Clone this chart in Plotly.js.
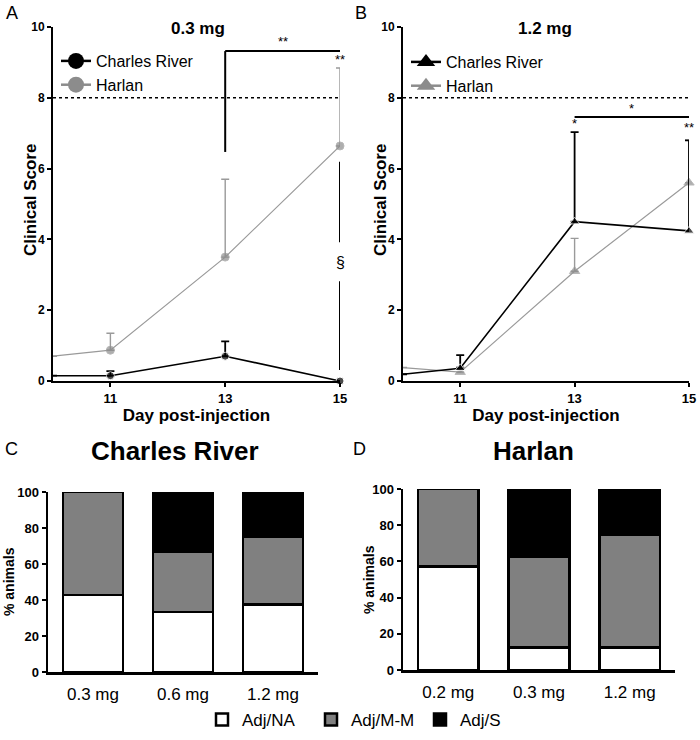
<!DOCTYPE html>
<html>
<head>
<meta charset="utf-8">
<script src="https://cdn.plot.ly/plotly-3.0.1.min.js"></script>
<style>html,body{margin:0;padding:0;background:#fff}#chart{width:700px;height:740px}</style>
</head>
<body>
<div id="chart"></div>
<script>
// ---------- data ----------
const days = [10, 11, 13, 15];
const dayTicks = [11, 13, 15];

// Panel A: 0.3 mg
const crA = [0.15, 0.15, 0.70, 0.00];
const crAErr = [null, 0.13, 0.42, null];
const harA = [0.70, 0.87, 3.50, 6.64];
const harAErr = [null, 0.48, 2.20, 2.20];

// Panel B: 1.2 mg
const crB = [0.19, 0.36, 4.50, 4.24];
const crBErr = [null, 0.37, 2.53, 2.56];
const harB = [0.38, 0.25, 3.10, 5.60];
const harBErr = [null, 0.15, 0.93, 1.20];

// Panel C: Charles River outcome distribution (% animals)
const doseC = ['0.3 mg', '0.6 mg', '1.2 mg'];
const naC = [42.9, 33.3, 37.5];
const mmC = [57.1, 33.3, 37.5];
const sC = [0, 33.4, 25.0];

// Panel D: Harlan outcome distribution (% animals)
const doseD = ['0.2 mg', '0.3 mg', '1.2 mg'];
const naD = [57.1, 12.5, 12.5];
const mmD = [42.9, 50.0, 62.5];
const sD = [0, 37.5, 25.0];

const outcomeNames = ['Adj/NA', 'Adj/M-M', 'Adj/S'];
const strainNames = ['Charles River', 'Harlan'];
const threshold = 8;

// ---------- helpers ----------
const W = 700, H = 740;
const px = v => v / W;
const py = v => 1 - v / H;
const FONT = 'Liberation Sans, Arial, sans-serif';
const BLACK = '#000000';
const GREY = '#8c8c8c';
const GREYLINE = '#9a9a9a';
const msz = (s) => days.map(d => (d < 11 ? 0 : s));

function lineTrace(y, err, name, color, lineColor, symbol, size, xa, ya, lw, ew) {
  return {
    type: 'scatter', mode: 'lines+markers', x: days, y: y, name: name,
    xaxis: xa, yaxis: ya, showlegend: false, cliponaxis: false,
    line: {color: lineColor, width: lw},
    marker: {color: color, symbol: symbol, size: msz(size)},
    error_y: {type: 'data', symmetric: false, array: err, arrayminus: err.map(e => (e == null ? null : 0)),
              color: lineColor, thickness: ew, width: 4}
  };
}
// legend entries (no data points of their own)
function legendEntry(name, color, symbol, size, xa, ya, legend, rank) {
  return {type: 'scatter', mode: 'lines+markers', x: [null], y: [null], name: name, xaxis: xa, yaxis: ya,
    legend: legend, legendrank: rank, showlegend: true,
    line: {color: color, width: 2.5}, marker: {color: color, symbol: symbol, size: size}};
}

const traces = [
  lineTrace(crA, crAErr, strainNames[0], BLACK, BLACK, 'circle', 8, 'x', 'y', 1.6, 1.8),
  lineTrace(harA, harAErr, strainNames[1], GREY, GREYLINE, 'circle', 8, 'x', 'y', 1.2, 1.4),
  lineTrace(harB, harBErr, strainNames[1], GREY, GREYLINE, 'triangle-up', 9, 'x2', 'y2', 1.2, 1.4),
  lineTrace(crB, crBErr, strainNames[0], BLACK, BLACK, 'triangle-up', 9, 'x2', 'y2', 1.6, 1.8),
  legendEntry(strainNames[0], BLACK, 'circle', 16, 'x', 'y', 'legend', 1),
  legendEntry(strainNames[1], GREY, 'circle', 16, 'x', 'y', 'legend', 2),
  legendEntry(strainNames[0], BLACK, 'triangle-up', 16, 'x2', 'y2', 'legend2', 1),
  legendEntry(strainNames[1], GREY, 'triangle-up', 16, 'x2', 'y2', 'legend2', 2)
];

const barColors = ['#ffffff', '#808080', '#000000'];
const cSeries = [naC, mmC, sC];
const dSeries = [naD, mmD, sD];
outcomeNames.forEach((nm, i) => {
  traces.push({type: 'bar', x: doseC, y: cSeries[i], name: nm, xaxis: 'x3', yaxis: 'y3', legend: 'legend3',
    width: 0.67, marker: {color: barColors[i], line: {color: BLACK, width: 2.5}}, showlegend: true});
});
outcomeNames.forEach((nm, i) => {
  traces.push({type: 'bar', x: doseD, y: dSeries[i], name: nm, xaxis: 'x4', yaxis: 'y4', legend: 'legend3',
    width: 0.67, marker: {color: barColors[i], line: {color: BLACK, width: 2.5}}, showlegend: false});
});

const axisBase = {
  showline: true, linecolor: BLACK, linewidth: 2, ticks: 'outside', ticklen: 4, tickwidth: 2, tickcolor: BLACK,
  showgrid: false, zeroline: false, fixedrange: true,
  tickfont: {family: FONT, size: 12, color: BLACK, weight: 'bold'}
};
const dayAxis = (dom) => Object.assign({}, axisBase, {
  domain: dom, range: [10, 15], tickvals: dayTicks, ticktext: dayTicks.map(String),
  tickfont: {family: FONT, size: 13, color: BLACK, weight: 'bold'},
  title: {text: 'Day post-injection', font: {family: FONT, size: 17, color: BLACK, weight: 'bold'}, standoff: 0}
});
const scoreAxis = (anchor) => Object.assign({}, axisBase, {
  domain: [py(381), py(27)], range: [0, 10], tickvals: [0, 2, 4, 6, 8, 10], anchor: anchor
});
const doseAxis = (dom, anchor) => Object.assign({}, axisBase, {
  domain: dom, range: [-0.5, 2.5], anchor: anchor, ticks: '', linewidth: 2.5, ticklabelstandoff: 5,
  tickfont: {family: FONT, size: 17, color: BLACK}
});
const pctAxis = (dom, anchor) => Object.assign({}, axisBase, {
  domain: dom, range: [0, 100], tickvals: [0, 20, 40, 60, 80, 100], anchor: anchor, linewidth: 2.5,
  tickfont: {family: FONT, size: 13, color: BLACK, weight: 'bold'}
});

const xA = dayAxis([px(53), px(340)]); xA.anchor = 'y';
const xB = dayAxis([px(403), px(689)]); xB.anchor = 'y2';

const ann = (text, x, y, xref, yref, size, extra) => Object.assign({
  text: text, x: x, y: y, xref: xref, yref: yref, showarrow: false, xanchor: 'center', yanchor: 'middle',
  font: {family: FONT, size: size, color: BLACK}
}, extra || {});

const layout = {
  width: W, height: H, margin: {l: 0, r: 0, t: 0, b: 0},
  paper_bgcolor: '#ffffff', plot_bgcolor: '#ffffff', barmode: 'stack',
  font: {family: FONT, color: BLACK},
  xaxis: xA, yaxis: scoreAxis('x'),
  xaxis2: xB, yaxis2: scoreAxis('x2'),
  xaxis3: doseAxis([px(48), px(318)], 'y3'), yaxis3: pctAxis([py(672), py(492)], 'x3'),
  xaxis4: doseAxis([px(403), px(675)], 'y4'), yaxis4: pctAxis([py(670), py(489)], 'x4'),
  legend: {x: px(56), y: py(44), xanchor: 'left', yanchor: 'top', bgcolor: 'rgba(0,0,0,0)',
    font: {family: FONT, size: 16, color: BLACK}, traceorder: 'normal'},
  legend2: {x: px(406), y: py(45), xanchor: 'left', yanchor: 'top', bgcolor: 'rgba(0,0,0,0)',
    font: {family: FONT, size: 16, color: BLACK}, traceorder: 'normal'},
  legend3: {orientation: 'h', x: px(202), y: py(702), xanchor: 'left', yanchor: 'top', bgcolor: 'rgba(0,0,0,0)',
    font: {family: FONT, size: 17, color: BLACK}, traceorder: 'normal', entrywidth: 64, entrywidthmode: 'pixels'},
  shapes: [
    {type: 'line', xref: 'x', yref: 'y', x0: 10, x1: 15.1, y0: threshold, y1: threshold, line: {color: BLACK, width: 1.5, dash: 'dot'}},
    {type: 'line', xref: 'x2', yref: 'y2', x0: 10, x1: 15.15, y0: threshold, y1: threshold, line: {color: BLACK, width: 1.5, dash: 'dot'}},
    // Panel A bracket (13 vs 15)
    {type: 'line', xref: 'x', yref: 'y', x0: dayTicks[1], x1: dayTicks[1], y0: 6.47, y1: 9.32, line: {color: BLACK, width: 2}},
    {type: 'line', xref: 'x', yref: 'y', x0: dayTicks[1], x1: dayTicks[2], y0: 9.32, y1: 9.32, line: {color: BLACK, width: 2}},
    // Panel A § line at day 15
    {type: 'line', xref: 'x', yref: 'y', x0: dayTicks[2], x1: dayTicks[2], y0: 3.92, y1: 6.19, line: {color: BLACK, width: 2}},
    {type: 'line', xref: 'x', yref: 'y', x0: dayTicks[2], x1: dayTicks[2], y0: 0.31, y1: 2.82, line: {color: BLACK, width: 2}},
    // Panel B bracket
    {type: 'line', xref: 'x2', yref: 'y2', x0: dayTicks[1], x1: dayTicks[2], y0: 7.46, y1: 7.46, line: {color: BLACK, width: 2}}
  ],
  annotations: [
    ann('A', px(12), py(13), 'paper', 'paper', 18),
    ann('B', px(361), py(13), 'paper', 'paper', 18),
    ann('C', px(11), py(449), 'paper', 'paper', 18),
    ann('D', px(360), py(449), 'paper', 'paper', 18),
    ann('<b>0.3 mg</b>', px(198), py(28), 'paper', 'paper', 17),
    ann('<b>1.2 mg</b>', px(545), py(28), 'paper', 'paper', 17),
    ann('<b>Clinical Score</b>', px(30), py(200), 'paper', 'paper', 17, {textangle: -90}),
    ann('<b>Clinical Score</b>', px(380), py(200), 'paper', 'paper', 17, {textangle: -90}),
    ann('<b>% animals</b>', px(9), py(582), 'paper', 'paper', 14, {textangle: -90}),
    ann('<b>% animals</b>', px(369), py(580), 'paper', 'paper', 14, {textangle: -90}),
    ann('<b>Charles River</b>', px(175), py(451), 'paper', 'paper', 26),
    ann('<b>Harlan</b>', px(533), py(451), 'paper', 'paper', 26),
    ann('**', 14, 9.58, 'x', 'y', 13),
    ann('**', dayTicks[2], 9.08, 'x', 'y', 13),
    ann('§', dayTicks[2], 3.36, 'x', 'y', 16),
    ann('*', 14, 7.7, 'x2', 'y2', 13),
    ann('*', dayTicks[1], 7.28, 'x2', 'y2', 13),
    ann('**', dayTicks[2], 7.16, 'x2', 'y2', 13)
  ]
};

Plotly.newPlot('chart', traces, layout, {staticPlot: true, displayModeBar: false});
</script>
</body>
</html>
